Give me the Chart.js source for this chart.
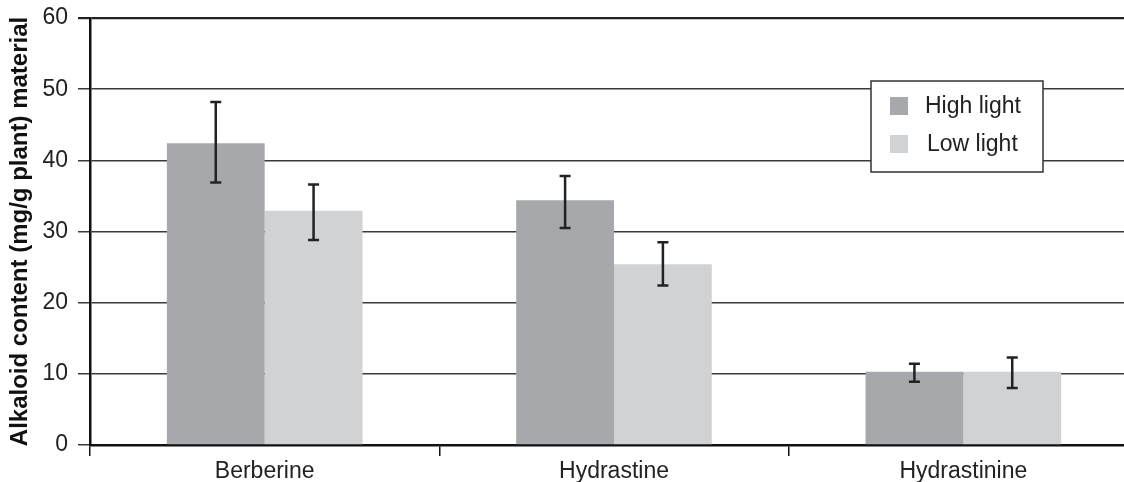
<!DOCTYPE html>
<html>
<head>
<meta charset="utf-8">
<script src="https://cdn.jsdelivr.net/npm/chart.js@4/dist/chart.umd.min.js"></script>
<style>
  html, body { margin: 0; padding: 0; background: #fff; overflow: hidden; }
  #wrap { width: 1140px; height: 482px; }
</style>
</head>
<body>
<div id="wrap"><canvas id="canvas" width="1140" height="482"></canvas></div>
<script>
const categories = ['Berberine', 'Hydrastine', 'Hydrastinine'];
const seriesNames = ['High light', 'Low light'];
const highLight = [42.4, 34.4, 10.3];
const lowLight = [32.9, 25.4, 10.3];
// error bar ends
const highLightLow = [36.9, 30.5, 8.9];
const highLightHigh = [48.2, 37.8, 11.4];
const lowLightLow = [28.8, 22.4, 8.0];
const lowLightHigh = [36.6, 28.5, 12.3];
const yTicks = [0, 10, 20, 30, 40, 50, 60];

const colors = ['#a7a8ab', '#d1d2d4'];
const errors = [
  {low: highLightLow, high: highLightHigh},
  {low: lowLightLow, high: lowLightHigh}
];
const FONT = '"Liberation Sans", Arial, sans-serif';

const errorBars = {
  id: 'errorBars',
  afterDatasetsDraw(chart) {
    const ctx = chart.ctx;
    const y = chart.scales.y;
    ctx.save();
    ctx.strokeStyle = '#222';
    ctx.lineWidth = 2.5;
    chart.data.datasets.forEach((ds, i) => {
      const meta = chart.getDatasetMeta(i);
      meta.data.forEach((bar, j) => {
        const top = y.getPixelForValue(errors[i].high[j]);
        const bot = y.getPixelForValue(errors[i].low[j]);
        const x = bar.x;
        ctx.beginPath();
        ctx.moveTo(x, top); ctx.lineTo(x, bot);
        ctx.moveTo(x - 5.5, top); ctx.lineTo(x + 5.5, top);
        ctx.moveTo(x - 5.5, bot); ctx.lineTo(x + 5.5, bot);
        ctx.stroke();
      });
    });
    ctx.restore();
  }
};

const boxLegend = {
  id: 'boxLegend',
  afterDraw(chart) {
    const ctx = chart.ctx;
    const a = chart.chartArea;
    const left = a.left + 781, top = a.top + 63;
    ctx.save();
    ctx.fillStyle = '#fff';
    ctx.fillRect(left, top, 172, 91);
    ctx.strokeStyle = '#333';
    ctx.lineWidth = 1.5;
    ctx.strokeRect(left, top, 172, 91);
    ctx.font = '23px ' + FONT;
    ctx.textBaseline = 'middle';
    seriesNames.forEach((name, i) => {
      const cy = top + 25 + i * 38;
      ctx.fillStyle = colors[i];
      ctx.fillRect(left + 19, cy - 9, 18, 18);
      ctx.fillStyle = '#222';
      ctx.fillText(name, left + 54 + i * 2, cy + 1);
    });
    ctx.restore();
  }
};

window.onload = () => {
  const ctx = document.getElementById('canvas').getContext('2d');
  new Chart(ctx, {
    type: 'bar',
    data: {
      labels: categories,
      datasets: [
        {label: seriesNames[0], data: highLight, backgroundColor: colors[0]},
        {label: seriesNames[1], data: lowLight, backgroundColor: colors[1]}
      ]
    },
    options: {
      responsive: false,
      animation: false,
      categoryPercentage: 0.56,
      barPercentage: 1.0,
      layout: {padding: {top: 18, right: 2, left: 0, bottom: 0}},
      plugins: {legend: {display: false}, tooltip: {enabled: false}},
      scales: {
        x: {
          offset: true,
          grid: {offset: true, drawOnChartArea: false, color: '#111', lineWidth: 1.5, tickLength: 11},
          border: {color: '#111', width: 2.5},
          ticks: {font: {family: FONT, size: 23}, color: '#222', padding: 2},
          afterFit(scale) { scale.height = 37; scale.paddingLeft = 0; scale.paddingRight = 0; }
        },
        y: {
          min: 0,
          max: 60,
          afterBuildTicks(scale) { scale.ticks = yTicks.map(v => ({value: v})); },
          grid: {
            color: ctx => ctx.tick && ctx.tick.value === 60 ? '#222' : '#3a3a3a',
            lineWidth: ctx => ctx.tick && ctx.tick.value === 60 ? 2.2 : 1.5,
            tickLength: 12
          },
          border: {color: '#111', width: 2.5},
          ticks: {font: {family: FONT, size: 23}, color: '#222', padding: 10},
          title: {
            display: true,
            text: 'Alkaloid content (mg/g plant) material',
            font: {family: FONT, size: 24, weight: 'bold'},
            color: '#111',
            padding: {top: 6, bottom: 0}
          },
          afterFit(scale) { scale.width = 90; scale.paddingTop = 0; scale.paddingBottom = 0; }
        }
      }
    },
    plugins: [errorBars, boxLegend]
  });
};
</script>
</body>
</html>
